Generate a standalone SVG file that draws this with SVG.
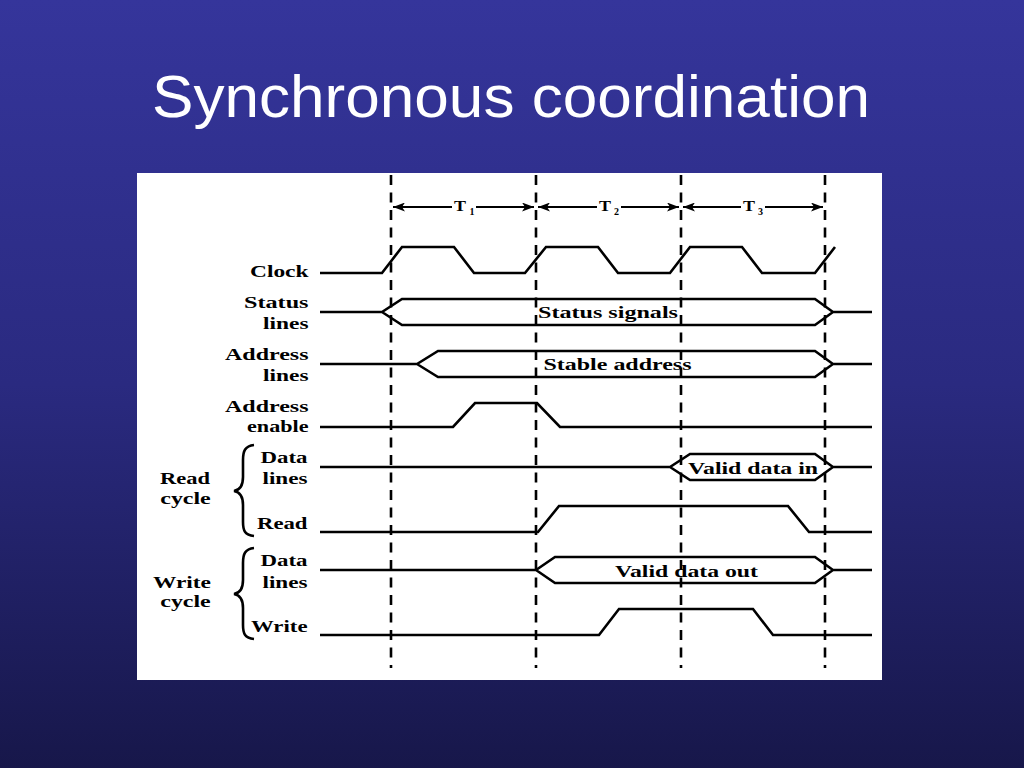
<svg xmlns="http://www.w3.org/2000/svg" width="1024" height="768" viewBox="0 0 1024 768">
  <defs>
    <linearGradient id="bg" x1="0" y1="0" x2="0" y2="1">
      <stop offset="0" stop-color="#35359b"/>
      <stop offset="0.5" stop-color="#2a2a80"/>
      <stop offset="1" stop-color="#17174a"/>
    </linearGradient>
    <marker id="ah" viewBox="0 0 12 9" refX="12" refY="4.5" markerWidth="12" markerHeight="9" markerUnits="userSpaceOnUse" orient="auto">
      <path d="M0,0 L12,4.5 L0,9 L3,4.5 Z" fill="#000"/>
    </marker>
    <style>
      .sig { fill: none; stroke: #000; stroke-width: 2.6; stroke-linejoin: miter; }
      .dash { fill: none; stroke: #000; stroke-width: 2.6; stroke-dasharray: 10 7.5; }
      .arr { fill: none; stroke: #000; stroke-width: 2; marker-end: url(#ah); }
      .lbl { font-family: "Liberation Serif", "Times New Roman", serif; font-weight: bold; font-size: 17px; fill: #000; }
      .in { font-family: "Liberation Serif", "Times New Roman", serif; font-weight: bold; font-size: 17px; fill: #000; text-anchor: middle; }
      .tt { font-family: "Liberation Serif", "Times New Roman", serif; font-weight: bold; font-size: 15px; fill: #000; }
      .sub { font-family: "Liberation Serif", "Times New Roman", serif; font-weight: bold; font-size: 10px; fill: #000; }
      .brace { fill: none; stroke: #000; stroke-width: 2.6; }
    </style>
  </defs>
  <rect x="0" y="0" width="1024" height="768" fill="url(#bg)"/>
  <text x="511" y="117" font-family="'Liberation Sans', Arial, sans-serif" font-size="60" fill="#fff" text-anchor="middle" textLength="718" lengthAdjust="spacingAndGlyphs">Synchronous coordination</text>
  <rect x="137" y="173" width="745" height="507" fill="#fff"/>

  <g id="connectors">
    <line class="dash" x1="391" y1="175" x2="391" y2="668"/>
    <line class="dash" x1="536" y1="175" x2="536" y2="668"/>
    <line class="dash" x1="681" y1="175" x2="681" y2="668"/>
    <line class="dash" x1="825" y1="175" x2="825" y2="668"/>
    <line class="arr" x1="452" y1="207" x2="393" y2="207"/>
    <line class="arr" x1="476" y1="207" x2="534" y2="207"/>
    <line class="arr" x1="597" y1="207" x2="538" y2="207"/>
    <line class="arr" x1="621" y1="207" x2="679" y2="207"/>
    <line class="arr" x1="741" y1="207" x2="683" y2="207"/>
    <line class="arr" x1="765" y1="207" x2="823" y2="207"/>
  </g>

  <g id="periods">
    <text class="tt" x="454" y="211" textLength="12" lengthAdjust="spacingAndGlyphs">T</text>
    <text class="sub" x="469.5" y="215">1</text>
    <text class="tt" x="599" y="211" textLength="12" lengthAdjust="spacingAndGlyphs">T</text>
    <text class="sub" x="614" y="215">2</text>
    <text class="tt" x="743" y="211" textLength="12" lengthAdjust="spacingAndGlyphs">T</text>
    <text class="sub" x="758" y="215">3</text>
  </g>

  <g id="clock">
    <text class="lbl" x="308.5" y="277" text-anchor="end" textLength="58.5" lengthAdjust="spacingAndGlyphs">Clock</text>
    <path class="sig" d="M320,273 L382,273 L402,247 L454,247 L474,273 L525,273 L546,247 L598,247 L618,273 L670,273 L690,247 L742,247 L762,273 L815,273 L835,247"/>
  </g>

  <g id="status">
    <text class="lbl" x="308.5" y="308" text-anchor="end" textLength="64.5" lengthAdjust="spacingAndGlyphs">Status</text>
    <text class="lbl" x="308.5" y="329" text-anchor="end" textLength="45.5" lengthAdjust="spacingAndGlyphs">lines</text>
    <path class="sig" d="M320,312 L382,312 L402,299 L815,299 L833,312 L872,312 M382,312 L402,325 L815,325 L833,312"/>
    <text class="in" x="608" y="318" textLength="140" lengthAdjust="spacingAndGlyphs">Status signals</text>
  </g>

  <g id="address">
    <text class="lbl" x="308.5" y="359.5" text-anchor="end" textLength="83.5" lengthAdjust="spacingAndGlyphs">Address</text>
    <text class="lbl" x="308.5" y="380.5" text-anchor="end" textLength="45.5" lengthAdjust="spacingAndGlyphs">lines</text>
    <path class="sig" d="M320,364 L417,364 L438,351 L815,351 L833,364 L872,364 M417,364 L438,377 L815,377 L833,364"/>
    <text class="in" x="617.5" y="370" textLength="148" lengthAdjust="spacingAndGlyphs">Stable address</text>
  </g>

  <g id="address-enable">
    <text class="lbl" x="308.5" y="411.5" text-anchor="end" textLength="83.5" lengthAdjust="spacingAndGlyphs">Address</text>
    <text class="lbl" x="308.5" y="432" text-anchor="end" textLength="61.5" lengthAdjust="spacingAndGlyphs">enable</text>
    <path class="sig" d="M320,427 L453,427 L475,403 L537,403 L560,427 L872,427"/>
  </g>

  <g id="read-cycle">
    <text class="lbl" x="185" y="484" text-anchor="middle" textLength="50" lengthAdjust="spacingAndGlyphs">Read</text>
    <text class="lbl" x="185.5" y="503.5" text-anchor="middle" textLength="50.5" lengthAdjust="spacingAndGlyphs">cycle</text>
    <path class="brace" d="M254,445 C245,446 243,451 243,460 L243,477 C243,486 240,490 234,491 C240,492 243,496 243,505 L243,522 C243,531 245,535 254,536"/>
  </g>

  <g id="read-data">
    <text class="lbl" x="307.5" y="462.5" text-anchor="end" textLength="47" lengthAdjust="spacingAndGlyphs">Data</text>
    <text class="lbl" x="307.5" y="484" text-anchor="end" textLength="45" lengthAdjust="spacingAndGlyphs">lines</text>
    <path class="sig" d="M320,467 L670,467 L690,454 L815,454 L833,467 L872,467 M670,467 L690,480 L815,480 L833,467"/>
    <text class="in" x="753" y="473.5" textLength="130" lengthAdjust="spacingAndGlyphs">Valid data in</text>
  </g>

  <g id="read">
    <text class="lbl" x="307.5" y="528.5" text-anchor="end" textLength="50.5" lengthAdjust="spacingAndGlyphs">Read</text>
    <path class="sig" d="M320,532 L538,532 L559,506 L788,506 L809,532 L872,532"/>
  </g>

  <g id="write-cycle">
    <text class="lbl" x="182" y="587.5" text-anchor="middle" textLength="58" lengthAdjust="spacingAndGlyphs">Write</text>
    <text class="lbl" x="185.5" y="607" text-anchor="middle" textLength="50.5" lengthAdjust="spacingAndGlyphs">cycle</text>
    <path class="brace" d="M254,548 C245,549 243,554 243,563 L243,580 C243,589 240,593 234,594 C240,595 243,599 243,608 L243,625 C243,634 245,638 254,639"/>
  </g>

  <g id="write-data">
    <text class="lbl" x="307.5" y="566" text-anchor="end" textLength="47" lengthAdjust="spacingAndGlyphs">Data</text>
    <text class="lbl" x="307.5" y="587.5" text-anchor="end" textLength="45" lengthAdjust="spacingAndGlyphs">lines</text>
    <path class="sig" d="M320,570 L536,570 L555,557 L815,557 L833,570 L872,570 M536,570 L555,583 L815,583 L833,570"/>
    <text class="in" x="686.5" y="576.5" textLength="143" lengthAdjust="spacingAndGlyphs">Valid data out</text>
  </g>

  <g id="write">
    <text class="lbl" x="307.5" y="632" text-anchor="end" textLength="56.5" lengthAdjust="spacingAndGlyphs">Write</text>
    <path class="sig" d="M320,635 L599,635 L619,609 L753,609 L773,635 L872,635"/>
  </g>
</svg>
